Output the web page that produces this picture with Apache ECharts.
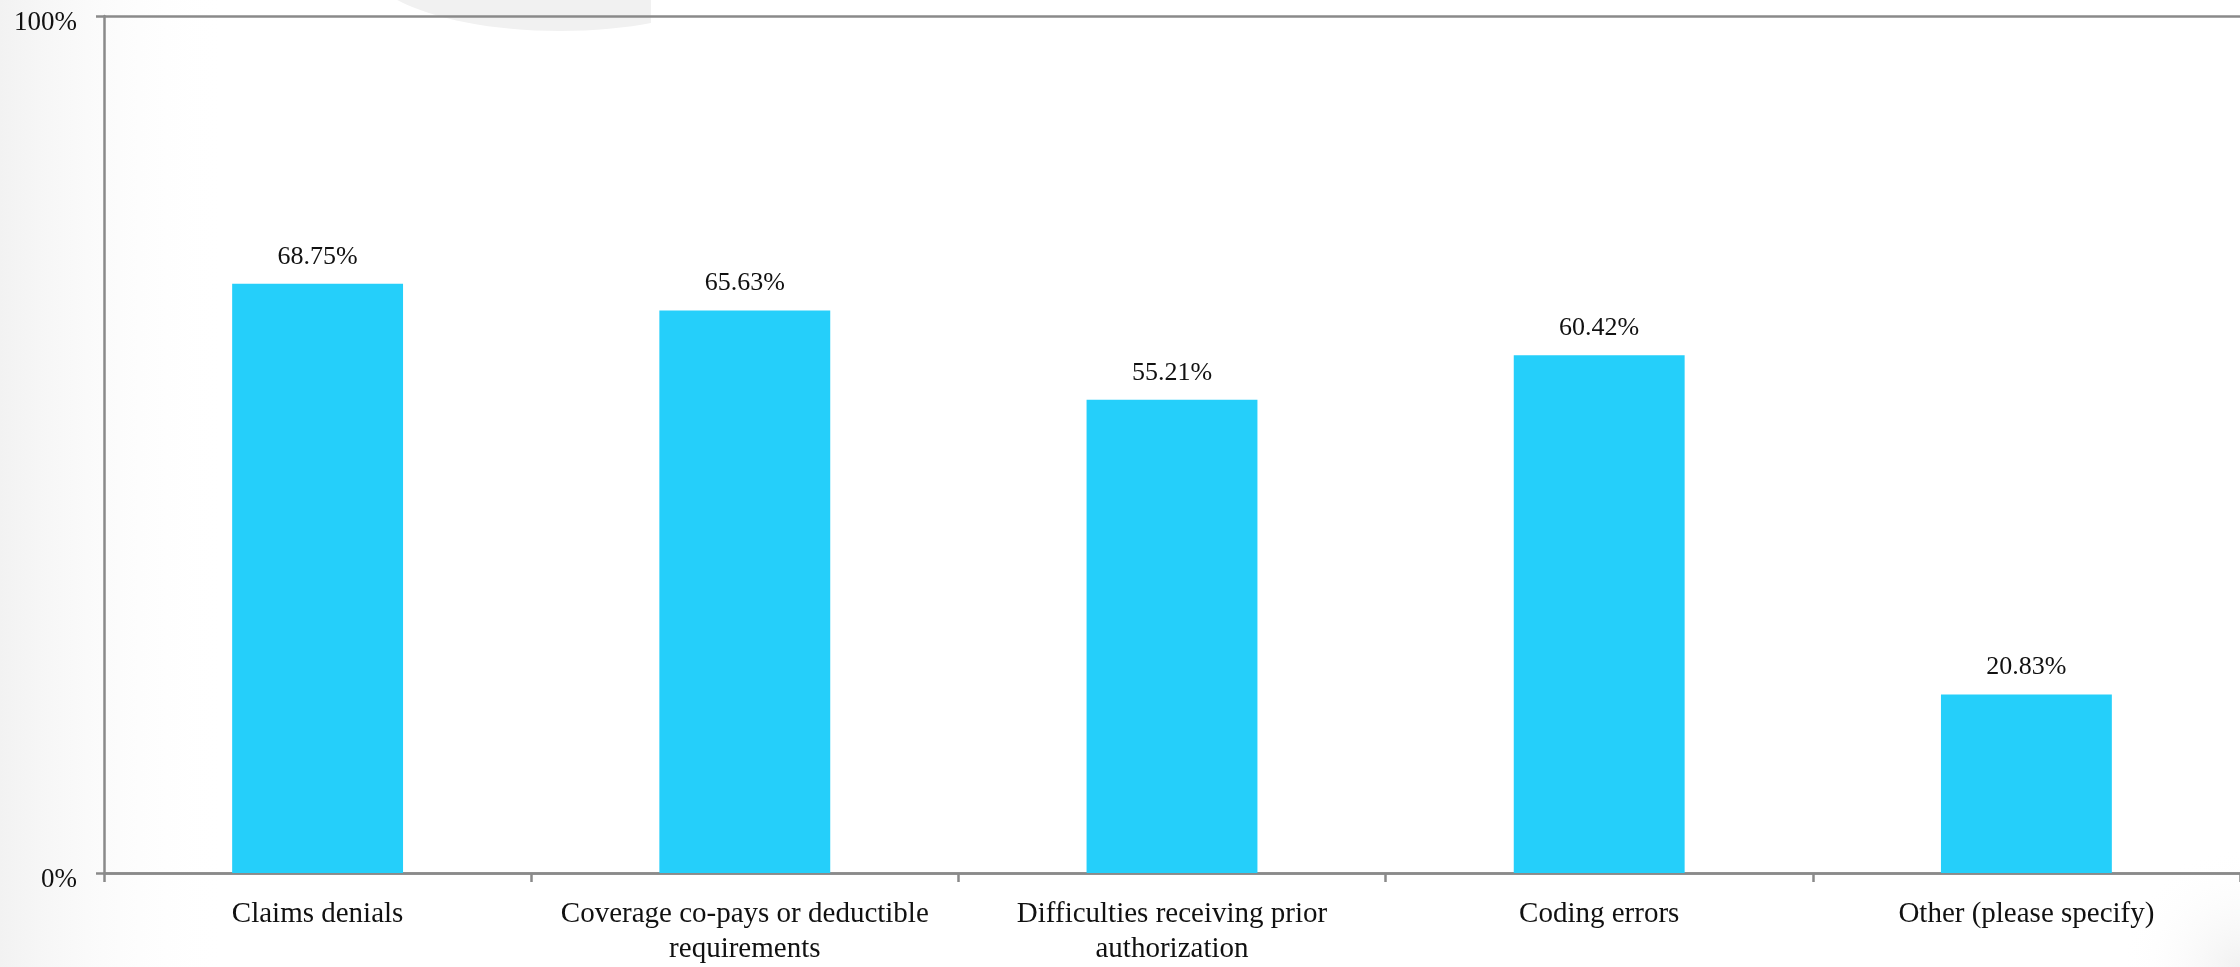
<!DOCTYPE html>
<html>
<head>
<meta charset="utf-8">
<style>
  html, body { margin: 0; padding: 0; background: #ffffff; }
  #chart { width: 2240px; height: 967px; }
</style>
<script src="https://cdn.jsdelivr.net/npm/echarts@6/dist/echarts.min.js"></script>
</head>
<body>
<div id="chart"></div>
<script>
// Survey responses: share of respondents citing each billing issue
const categories = [
  'Claims denials',
  'Coverage co-pays or deductible\nrequirements',
  'Difficulties receiving prior\nauthorization',
  'Coding errors',
  'Other (please specify)'
];
const shares = [68.75, 65.63, 55.21, 60.42, 20.83];
const yTicks = [0, 100];

const FONT = '"Liberation Serif", "Times New Roman", serif';
const AXIS_GRAY = '#8a8a8a';
const BAR_BLUE = '#25cffa';

const chart = echarts.init(document.getElementById('chart'), null, { renderer: 'canvas' });

chart.setOption({
  backgroundColor: '#ffffff',
  animation: false,
  // soft slide backdrop: left fade, top swoosh, bottom-right shading
  graphic: [
    {
      type: 'rect', z: -10, silent: true,
      shape: { x: 0, y: 0, width: 230, height: 967 },
      style: {
        fill: new echarts.graphic.LinearGradient(0, 0, 1, 0, [
          { offset: 0, color: '#f2f2f2' },
          { offset: 1, color: 'rgba(255,255,255,0)' }
        ])
      }
    },
    {
      type: 'ellipse', z: -10, silent: true,
      shape: { cx: 560, cy: -40, rx: 197, ry: 71 },
      style: { fill: '#f1f1f1' }
    },
    {
      type: 'rect', z: -9, silent: true,
      shape: { x: 651, y: 0, width: 200, height: 40 },
      style: { fill: '#ffffff' }
    },
    {
      type: 'circle', z: -10, silent: true,
      shape: { cx: 2240, cy: 967, r: 120 },
      style: {
        fill: new echarts.graphic.RadialGradient(0.5, 0.5, 0.5, [
          { offset: 0, color: '#f1f1f1' },
          { offset: 1, color: 'rgba(255,255,255,0)' }
        ])
      }
    }
  ],
  grid: { left: 104, right: 0, top: 16, bottom: 91, containLabel: false },
  xAxis: {
    type: 'category',
    data: categories,
    boundaryGap: true,
    axisLine: { show: true, lineStyle: { color: AXIS_GRAY, width: 2.5 } },
    axisTick: { show: true, length: 9, alignWithLabel: false, lineStyle: { color: AXIS_GRAY, width: 2.5 } },
    axisLabel: {
      interval: 0,
      margin: 24,
      fontFamily: FONT,
      fontSize: 29,
      lineHeight: 35,
      color: '#111111',
      align: 'center'
    },
    splitLine: { show: false }
  },
  yAxis: {
    type: 'value',
    min: yTicks[0],
    max: yTicks[yTicks.length - 1],
    interval: yTicks[1] - yTicks[0],
    axisLine: { show: true, lineStyle: { color: AXIS_GRAY, width: 2.5 } },
    axisTick: { show: true, length: 8, lineStyle: { color: AXIS_GRAY, width: 2.5 } },
    axisLabel: {
      margin: 27,
      fontFamily: FONT,
      fontSize: 27,
      color: '#111111',
      verticalAlign: 'top',
      lineHeight: 14,
      formatter: v => v + '%'
    },
    splitLine: { show: true, lineStyle: { color: AXIS_GRAY, width: 2.5 } }
  },
  series: [{
    type: 'bar',
    data: shares,
    barWidth: '40%',
    itemStyle: { color: BAR_BLUE },
    label: {
      show: true,
      position: 'top',
      distance: 14,
      fontFamily: FONT,
      fontSize: 26,
      color: '#111111',
      formatter: p => p.value.toFixed(2) + '%'
    }
  }]
});
</script>
</body>
</html>
